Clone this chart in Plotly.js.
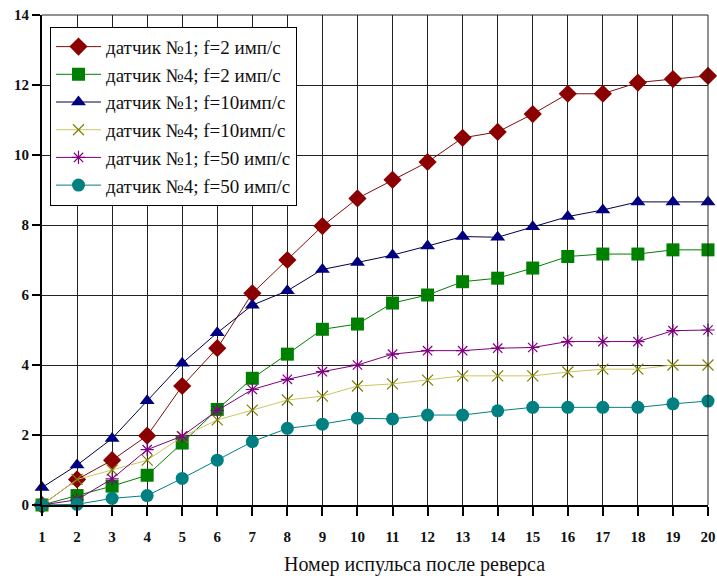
<!DOCTYPE html>
<html>
<head>
<meta charset="utf-8">
<script src="https://cdn.plot.ly/plotly-3.0.1.min.js"></script>
<style>html,body{margin:0;padding:0;background:#fff;}</style>
</head>
<body>
<div id="chart" style="width:717px;height:579px;"></div>
<script>
const pulses = [1,2,3,4,5,6,7,8,9,10,11,12,13,14,15,16,17,18,19,20];
const s1_f2  = [0,0.73,1.28,1.98,3.4,4.48,6.05,7.0,7.97,8.76,9.29,9.8,10.49,10.66,11.17,11.75,11.75,12.07,12.17,12.26];
const s4_f2  = [0,0.27,0.54,0.85,1.77,2.73,3.62,4.31,5.02,5.17,5.77,6.0,6.38,6.48,6.77,7.1,7.17,7.17,7.29,7.29];
const s1_f10 = [0.5,1.14,1.9,2.98,4.05,4.92,5.71,6.12,6.73,6.93,7.14,7.4,7.67,7.65,7.95,8.24,8.43,8.66,8.66,8.66];
const s4_f10 = [0,0.73,1.0,1.28,1.95,2.43,2.71,3.0,3.11,3.4,3.46,3.57,3.69,3.69,3.69,3.8,3.88,3.88,4.0,4.0];
const s1_f50 = [0,0.15,0.75,1.58,1.97,2.7,3.3,3.59,3.81,4.0,4.31,4.41,4.41,4.48,4.5,4.67,4.67,4.67,4.98,5.0];
const s4_f50 = [0,0.02,0.19,0.27,0.76,1.28,1.81,2.19,2.31,2.48,2.46,2.57,2.57,2.69,2.79,2.79,2.79,2.79,2.89,2.97];
const names = ["датчик №1; f=2 имп/с","датчик №4; f=2 имп/с","датчик №1; f=10имп/с","датчик №4; f=10имп/с","датчик №1; f=50 имп/с","датчик №4; f=50 имп/с"];
const yTicks = [0,2,4,6,8,10,12,14];
const xTitle = "Номер испульса после реверса";

const SERIF = 'Liberation Serif';
function tr(y, name, lineColor, mColor, symbol, size, mline){
  return {x:pulses, y:y, name:name, type:'scatter', mode:'lines+markers', cliponaxis:false,
    line:{color:lineColor, width:1},
    marker:{symbol:symbol, size:size, color:mColor, line:mline||{width:0}}};
}
const data = [
  tr(s1_f2, names[0], '#7a1010', '#8b0000', 'diamond', 14),
  tr(s4_f2, names[1], '#008000', '#008000', 'square', 13),
  tr(s1_f10, names[2], '#000040', '#000080', 'triangle-up', 13),
  tr(s4_f10, names[3], '#c8c860', '#808000', 'x-thin-open', 11, {color:'#808000', width:1.2}),
  tr(s1_f50, names[4], '#800080', '#800080', 'asterisk-open', 11, {color:'#800080', width:1.2}),
  tr(s4_f50, names[5], '#008080', '#008080', 'circle', 13)
];
const tickFont = {family:SERIF, size:15, color:'#111', weight:'bold'};
const layout = {
  width:717, height:579,
  margin:{l:42, r:9, t:15, b:74},
  paper_bgcolor:'#fff', plot_bgcolor:'#fff',
  showlegend:true,
  legend:{x:0.012, y:0.976, xanchor:'left', yanchor:'top', bgcolor:'#fff', bordercolor:'#000', borderwidth:1,
    itemwidth:45,
    font:{family:SERIF, size:19, color:'#111'}, tracegroupgap:0},
  xaxis:{range:[1,20], tickvals:pulses, ticktext:pulses.map(String), showgrid:true, gridcolor:'#222', gridwidth:1,
    showline:true, linecolor:'#000', linewidth:2, ticks:'outside', ticklen:9, tickwidth:2, tickcolor:'#000',
    ticklabelstandoff:8,
    zeroline:false, tickfont:tickFont, fixedrange:true},
  yaxis:{range:[0,14], tickvals:yTicks, ticktext:yTicks.map(String), showgrid:true, gridcolor:'#222', gridwidth:1,
    showline:true, linecolor:'#000', linewidth:2, ticks:'outside', ticklen:8, tickwidth:2, tickcolor:'#000',
    zeroline:false, tickfont:tickFont, fixedrange:true},
  annotations:[
    {text:xTitle, xref:'paper', yref:'paper', x:0.56, y:-0.122, xanchor:'center', yanchor:'middle', showarrow:false,
     font:{family:SERIF, size:20, color:'#111'}}
  ],
  shapes:[
    {type:'line', xref:'paper', yref:'paper', x0:0, x1:1, y0:1, y1:1, line:{color:'#222', width:1}},
    {type:'line', xref:'paper', yref:'paper', x0:1, x1:1, y0:0, y1:1, line:{color:'#222', width:1}}
  ]
};
Plotly.newPlot('chart', data, layout, {displayModeBar:false, staticPlot:true});
</script>
</body>
</html>
